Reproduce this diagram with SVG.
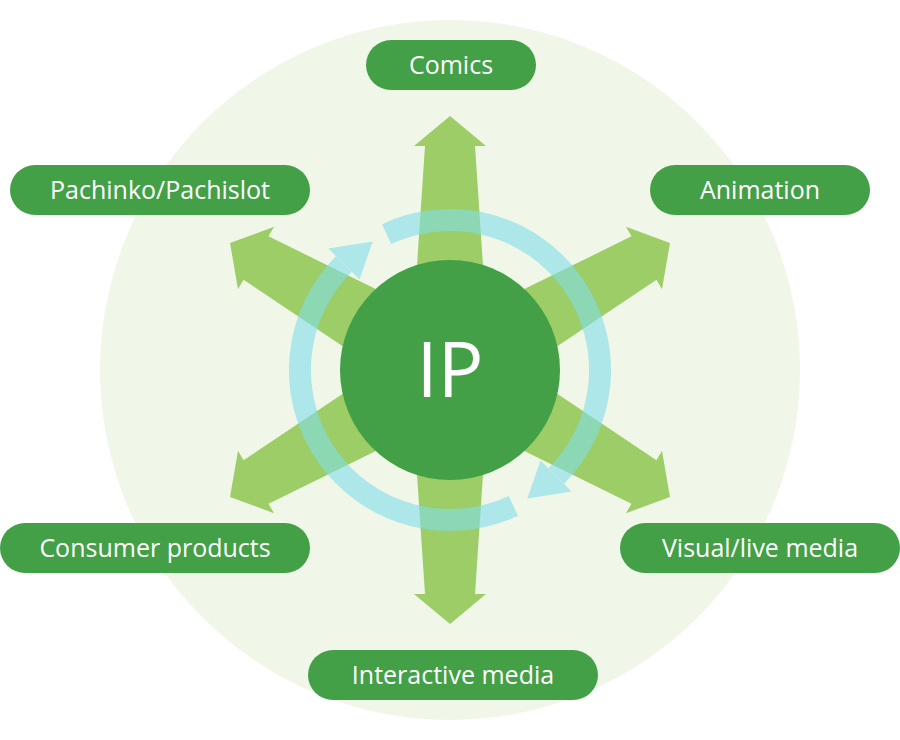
<svg xmlns="http://www.w3.org/2000/svg" width="900" height="740" viewBox="0 0 900 740">
<style>
.pill{fill:#43a047}
.lbl{fill:#fff;font-family:"Open Sans","Liberation Sans",sans-serif;font-size:25px;text-anchor:middle}
.arr{fill:#9ccd66}
</style>
<defs>
<path id="ar" d="M0,-254 L36,-224 L25,-224 L40,0 L-40,0 L-25,-224 L-36,-224 Z"/>
</defs>
<rect width="900" height="740" fill="#fff"/>
<circle cx="450" cy="370" r="350" fill="#f0f7e9"/>
<g id="connectors" class="arr" transform="translate(450,370)">
<use href="#ar"/>
<use href="#ar" transform="rotate(60)"/>
<use href="#ar" transform="rotate(120)"/>
<use href="#ar" transform="rotate(180)"/>
<use href="#ar" transform="rotate(240)"/>
<use href="#ar" transform="rotate(300)"/>
</g>
<g id="cycle" opacity="0.6">
<path d="M386.6,234.1 A150,150 0 0 1 556.1,476.1" fill="none" stroke="#82dee9" stroke-width="22"/>
<path d="M540.5,460.5 L571.6,491.6 L527.3,498.6 Z" fill="#82dee9"/>
<path d="M513.4,505.9 A150,150 0 0 1 343.9,263.9" fill="none" stroke="#82dee9" stroke-width="22"/>
<path d="M359.5,279.5 L328.4,248.4 L372.7,241.4 Z" fill="#82dee9"/>
</g>
<g id="ip"><circle cx="450" cy="370" r="110" fill="#43a047"/><text x="450" y="397" fill="#fff" font-family="Open Sans,Liberation Sans,sans-serif" font-size="76" text-anchor="middle">IP</text></g>
<g id="comics"><rect class="pill" x="366" y="40" width="170" height="50" rx="25"/><text class="lbl" x="451" y="74">Comics</text></g>
<g id="pachinko"><rect class="pill" x="10" y="165" width="300" height="50" rx="25"/><text class="lbl" x="160" y="199">Pachinko/Pachislot</text></g>
<g id="animation"><rect class="pill" x="650" y="165" width="220" height="50" rx="25"/><text class="lbl" x="760" y="199">Animation</text></g>
<g id="consumer"><rect class="pill" x="0" y="523" width="310" height="50" rx="25"/><text class="lbl" x="155" y="557">Consumer products</text></g>
<g id="visual"><rect class="pill" x="620" y="523" width="280" height="50" rx="25"/><text class="lbl" x="760" y="557">Visual/live media</text></g>
<g id="interactive"><rect class="pill" x="308" y="650" width="290" height="50" rx="25"/><text class="lbl" x="453" y="684">Interactive media</text></g>
</svg>
